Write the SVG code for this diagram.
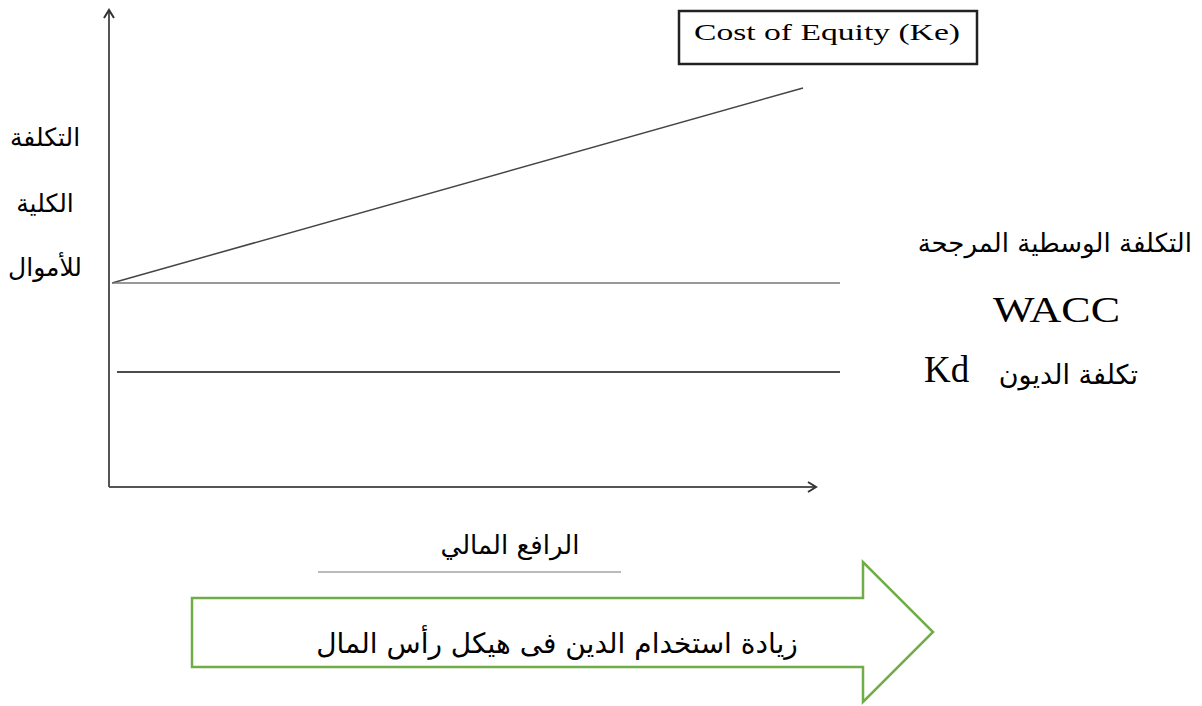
<svg xmlns="http://www.w3.org/2000/svg" width="1202" height="706" viewBox="0 0 1202 706">
<style>
.ar{font-family:"DejaVu Sans","Noto Sans",sans-serif;fill:#000;direction:rtl}
.en{font-family:"Liberation Serif","Times New Roman",serif;fill:#000}
.ax{stroke:#555;stroke-width:2;fill:none}
</style>
<defs>
<marker id="chev" markerWidth="12" markerHeight="12" refX="10" refY="6" orient="auto" markerUnits="userSpaceOnUse">
<path d="M2,1 L10,6 L2,11" fill="none" stroke="#333" stroke-width="2"/>
</marker>
</defs>
<rect width="1202" height="706" fill="#fff"/>
<g id="connectors">
<line class="ax" x1="109" y1="487" x2="109" y2="10" marker-end="url(#chev)"/>
<line class="ax" x1="109" y1="487" x2="816" y2="487" marker-end="url(#chev)"/>
<line x1="112" y1="283" x2="803" y2="88" stroke="#444" stroke-width="1.5"/>
<line x1="112" y1="283" x2="840" y2="283" stroke="#777" stroke-width="1.5"/>
<line x1="117" y1="372" x2="840" y2="372" stroke="#111" stroke-width="1.5"/>
<line x1="318" y1="572" x2="621" y2="572" stroke="#777" stroke-width="1.2"/>
</g>
<g id="ke-box">
<rect x="679" y="11" width="298" height="53" fill="#fff" stroke="#222" stroke-width="2.5"/>
<text class="en" x="694" y="40" font-size="23" textLength="266" lengthAdjust="spacingAndGlyphs" fill="#333">Cost of Equity (Ke)</text>
</g>
<g id="y-label">
<text class="ar" x="45" y="146" font-size="25" text-anchor="middle">التكلفة</text>
<text class="ar" x="45" y="212" font-size="25" text-anchor="middle">الكلية</text>
<text class="ar" x="45" y="276" font-size="25" text-anchor="middle">للأموال</text>
</g>
<g id="wacc-label">
<text class="ar" x="1192" y="252" font-size="26" text-anchor="start">التكلفة الوسطية المرجحة</text>
<text class="en" x="993" y="322" font-size="36" textLength="127" lengthAdjust="spacingAndGlyphs">WACC</text>
</g>
<g id="kd-label">
<text class="ar" x="1138" y="384" font-size="27" text-anchor="start">تكلفة الديون</text>
<text class="en" x="924" y="382" font-size="37">Kd</text>
</g>
<g id="x-label">
<text class="ar" x="510" y="554" font-size="26" text-anchor="middle">الرافع المالي</text>
</g>
<g id="debt-arrow">
<path d="M192,598 L863,598 L863,562 L933,632 L863,702 L863,667 L192,667 Z" fill="#fff" stroke="#70ad47" stroke-width="2.5"/>
<text class="ar" x="557" y="653" font-size="28" text-anchor="middle">زيادة استخدام الدين فى هيكل رأس المال</text>
</g>
</svg>
